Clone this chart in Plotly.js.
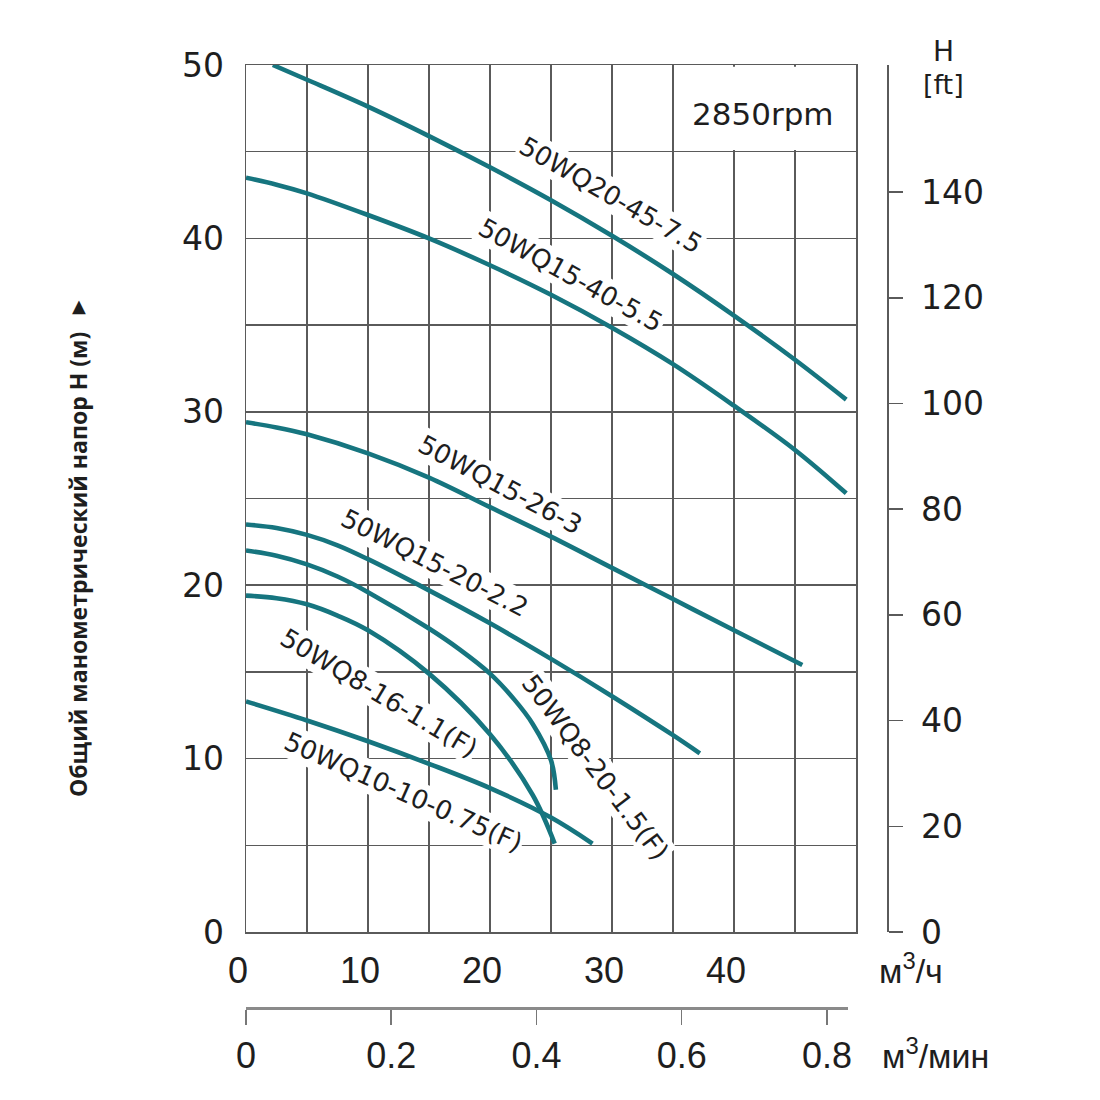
<!DOCTYPE html>
<html>
<head>
<meta charset="utf-8">
<script src="https://cdn.plot.ly/plotly-3.0.1.min.js"></script>
<style>
  html, body { margin: 0; padding: 0; background: #ffffff; }
  #chart { width: 1100px; height: 1100px; }
</style>
</head>
<body>
<div id="chart"></div>
<script>
// ---- data ----
// flow Q in m3/h, head H in m
const q_20_45_75 = [2.2, 5, 10, 15, 20, 25, 30, 35, 40, 45, 49.2];
const h_20_45_75 = [50.0, 49.15, 47.6, 45.9, 44.1, 42.2, 40.15, 37.95, 35.55, 33.0, 30.7];

const q_15_40_55 = [0, 2.5, 5, 10, 15, 20, 25, 30, 35, 40, 45, 49.2];
const h_15_40_55 = [43.5, 43.1, 42.6, 41.35, 40.0, 38.45, 36.75, 34.85, 32.75, 30.35, 27.8, 25.3];

const q_15_26_3 = [0, 2.5, 5, 10, 15, 20, 25, 30, 35, 40, 45.6];
const h_15_26_3 = [29.4, 29.1, 28.7, 27.6, 26.2, 24.5, 22.8, 21.0, 19.2, 17.4, 15.4];

const q_15_20_22 = [0, 2.5, 5, 7.5, 10, 15, 20, 25, 30, 35, 37.2];
const h_15_20_22 = [23.5, 23.3, 22.9, 22.3, 21.5, 19.7, 17.8, 15.75, 13.6, 11.35, 10.3];

const q_8_20_15 = [0, 2.5, 5, 7.5, 10, 15, 17.5, 20, 22, 23.5, 25, 25.4];
const h_8_20_15 = [22.0, 21.7, 21.2, 20.5, 19.6, 17.5, 16.3, 14.9, 13.4, 12.0, 9.9, 8.2];

const q_8_16_11 = [0, 2.5, 5, 7.5, 10, 15, 20, 23.5, 25.3];
const h_8_16_11 = [19.4, 19.25, 18.9, 18.25, 17.4, 14.9, 11.4, 7.9, 5.1];

const q_10_10_075 = [0, 5, 10, 15, 20, 25, 28.4];
const h_10_10_075 = [13.3, 12.2, 11.0, 9.7, 8.3, 6.6, 5.1];

// curve labels
const labelTexts  = ["50WQ20-45-7.5", "50WQ15-40-5.5", "50WQ15-26-3", "50WQ15-20-2.2",
                     "50WQ8-16-1.1(F)", "50WQ10-10-0.75(F)", "50WQ8-20-1.5(F)"];
const labelQ      = [29.9, 26.6, 20.9, 15.5, 10.9, 12.9, 28.6];
const labelH      = [42.5, 37.9, 25.8, 21.3, 13.8, 8.1, 9.5];
const labelAngle  = [30, 29, 28, 27, 31, 24, 53];

// tick labels
const qTicks    = [0, 10, 20, 30, 40];
const hTicks    = [0, 10, 20, 30, 40, 50];
const ftTicks   = [0, 20, 40, 60, 80, 100, 120, 140];
const minTicks  = [0, 0.2, 0.4, 0.6, 0.8];
const minLabels = ["0", "0.2", "0.4", "0.6", "0.8"];

const rpmText = "2850rpm";

// ---- styling ----
const curveColor = "#16757f";
const gridColor  = "#5a5a5a";
const textColor  = "#1e1e1e";
const wideFont   = "DejaVu Sans, Verdana, sans-serif";
const numFont    = "Liberation Sans, Arial, sans-serif";

const series = [
  [q_20_45_75, h_20_45_75],
  [q_15_40_55, h_15_40_55],
  [q_15_26_3, h_15_26_3],
  [q_15_20_22, h_15_20_22],
  [q_8_20_15, h_8_20_15],
  [q_8_16_11, h_8_16_11],
  [q_10_10_075, h_10_10_075]
];

const traces = series.map(s => ({
  type: "scatter", mode: "lines", x: s[0], y: s[1],
  line: { color: curveColor, width: 4.6, shape: "spline", smoothing: 1 },
  showlegend: false, hoverinfo: "skip", cliponaxis: false
}));
// helper (empty) traces to host the secondary axes
traces.push({ type: "scatter", mode: "lines", x: [], y: [], xaxis: "x2", yaxis: "y2", showlegend: false, hoverinfo: "skip" });
traces.push({ type: "scatter", mode: "lines", x: [], y: [], xaxis: "x", yaxis: "y3", showlegend: false, hoverinfo: "skip" });

// plot area in pixels: left 246, right 900, top 65, bottom 1007
const L = 246, R = 900, T = 65, B = 1007;
const W = R - L, H = B - T;
const px = v => (v - L) / W;
const py = v => (B - v) / H;
const yDomLow = py(932);
const xDomHigh = px(856);
const mPerFt = 3.28084;

function paperText(x, y, text, font, extra) {
  return Object.assign({ xref: "paper", yref: "paper", x: px(x), y: py(y), text: text,
    showarrow: false, xanchor: "center", yanchor: "middle", font: font }, extra || {});
}

const annotations = labelTexts.map((t, i) => ({
  xref: "x", yref: "y", x: labelQ[i], y: labelH[i], text: t,
  textangle: labelAngle[i], showarrow: false, xanchor: "center", yanchor: "middle",
  font: { family: wideFont, size: 26, color: textColor },
  bgcolor: "#ffffff", borderpad: 1
}));

annotations.push({ xref: "x", yref: "y", x: 42.4, y: 47.2, text: rpmText, showarrow: false,
  xanchor: "center", yanchor: "middle",
  font: { family: wideFont, size: 31, color: textColor } });
annotations.push(paperText(911, 968, "м<sup>3</sup>/ч", { family: numFont, size: 34, color: textColor }));
annotations.push(paperText(936, 1053, "м<sup>3</sup>/мин", { family: numFont, size: 34, color: textColor }));
annotations.push(paperText(943, 52, "H", { family: wideFont, size: 28, color: textColor }));
annotations.push(paperText(943, 84, "[ft]", { family: wideFont, size: 27, color: textColor }));
annotations.push(paperText(78, 565, "<b>Общий манометрический напор H (м)</b>",
  { family: "Open Sans, Noto Sans, sans-serif", size: 23, color: textColor }, { textangle: -90 }));
annotations.push(paperText(79, 305, "▲", { family: "DejaVu Sans, sans-serif", size: 18, color: textColor }));

const layout = {
  width: 1100, height: 1100,
  margin: { l: L, r: 1100 - R, t: T, b: 1100 - B, pad: 0 },
  paper_bgcolor: "#ffffff", plot_bgcolor: "rgba(0,0,0,0)",
  showlegend: false,
  xaxis: {
    domain: [0, xDomHigh], range: [0, 50], anchor: "y",
    tickmode: "array", tickvals: qTicks, ticktext: qTicks.map(String),
    ticks: "", showgrid: true, gridcolor: gridColor, gridwidth: 1.5,
    minor: { tickmode: "linear", tick0: 0, dtick: 5, showgrid: true, gridcolor: gridColor, gridwidth: 1.5, ticks: "" },
    showline: true, mirror: true, linecolor: gridColor, linewidth: 1.5, zeroline: false,
    tickfont: { family: numFont, size: 36, color: textColor },
    ticklabelstandoff: 6, ticklabelshift: -8
  },
  yaxis: {
    domain: [yDomLow, 1], range: [0, 50], anchor: "x",
    tickmode: "array", tickvals: hTicks, ticktext: hTicks.map(String),
    ticks: "", showgrid: true, gridcolor: gridColor, gridwidth: 1.5,
    minor: { tickmode: "linear", tick0: 0, dtick: 5, showgrid: true, gridcolor: gridColor, gridwidth: 1.5, ticks: "" },
    showline: true, mirror: true, linecolor: gridColor, linewidth: 1.5, zeroline: false,
    tickfont: { family: wideFont, size: 33, color: textColor },
    ticklabelstandoff: 14
  },
  yaxis3: {
    overlaying: "y", side: "right", anchor: "free", position: px(887),
    domain: [yDomLow, 1], range: [0, 50 * mPerFt],
    tickmode: "array", tickvals: ftTicks, ticktext: ftTicks.map(String),
    ticks: "outside", ticklen: 14, tickwidth: 1.5, tickcolor: gridColor,
    showline: true, linecolor: gridColor, linewidth: 1.5,
    showgrid: false, zeroline: false,
    tickfont: { family: wideFont, size: 33, color: textColor },
    ticklabelstandoff: 12
  },
  xaxis2: {
    domain: [0, px(848)], range: [0, 0.829], anchor: "y2",
    tickmode: "array", tickvals: minTicks, ticktext: minLabels,
    ticks: "outside", ticklen: 15, tickwidth: 1.5, tickcolor: "#777777",
    showline: true, linecolor: "#8a8a8a", linewidth: 2.5,
    showgrid: false, zeroline: false,
    tickfont: { family: numFont, size: 36, color: textColor },
    ticklabelstandoff: 0
  },
  yaxis2: { domain: [0, 0.001], range: [0, 1], anchor: "x2", visible: false },
  shapes: [
    { type: "rect", xref: "x", yref: "y", x0: 35.12, x1: 49.88, y0: 45.1, y1: 49.9,
      fillcolor: "#ffffff", line: { width: 0 }, layer: "between" }
  ],
  annotations: annotations
};

Plotly.newPlot("chart", traces, layout, { staticPlot: true, displayModeBar: false });
</script>
</body>
</html>
